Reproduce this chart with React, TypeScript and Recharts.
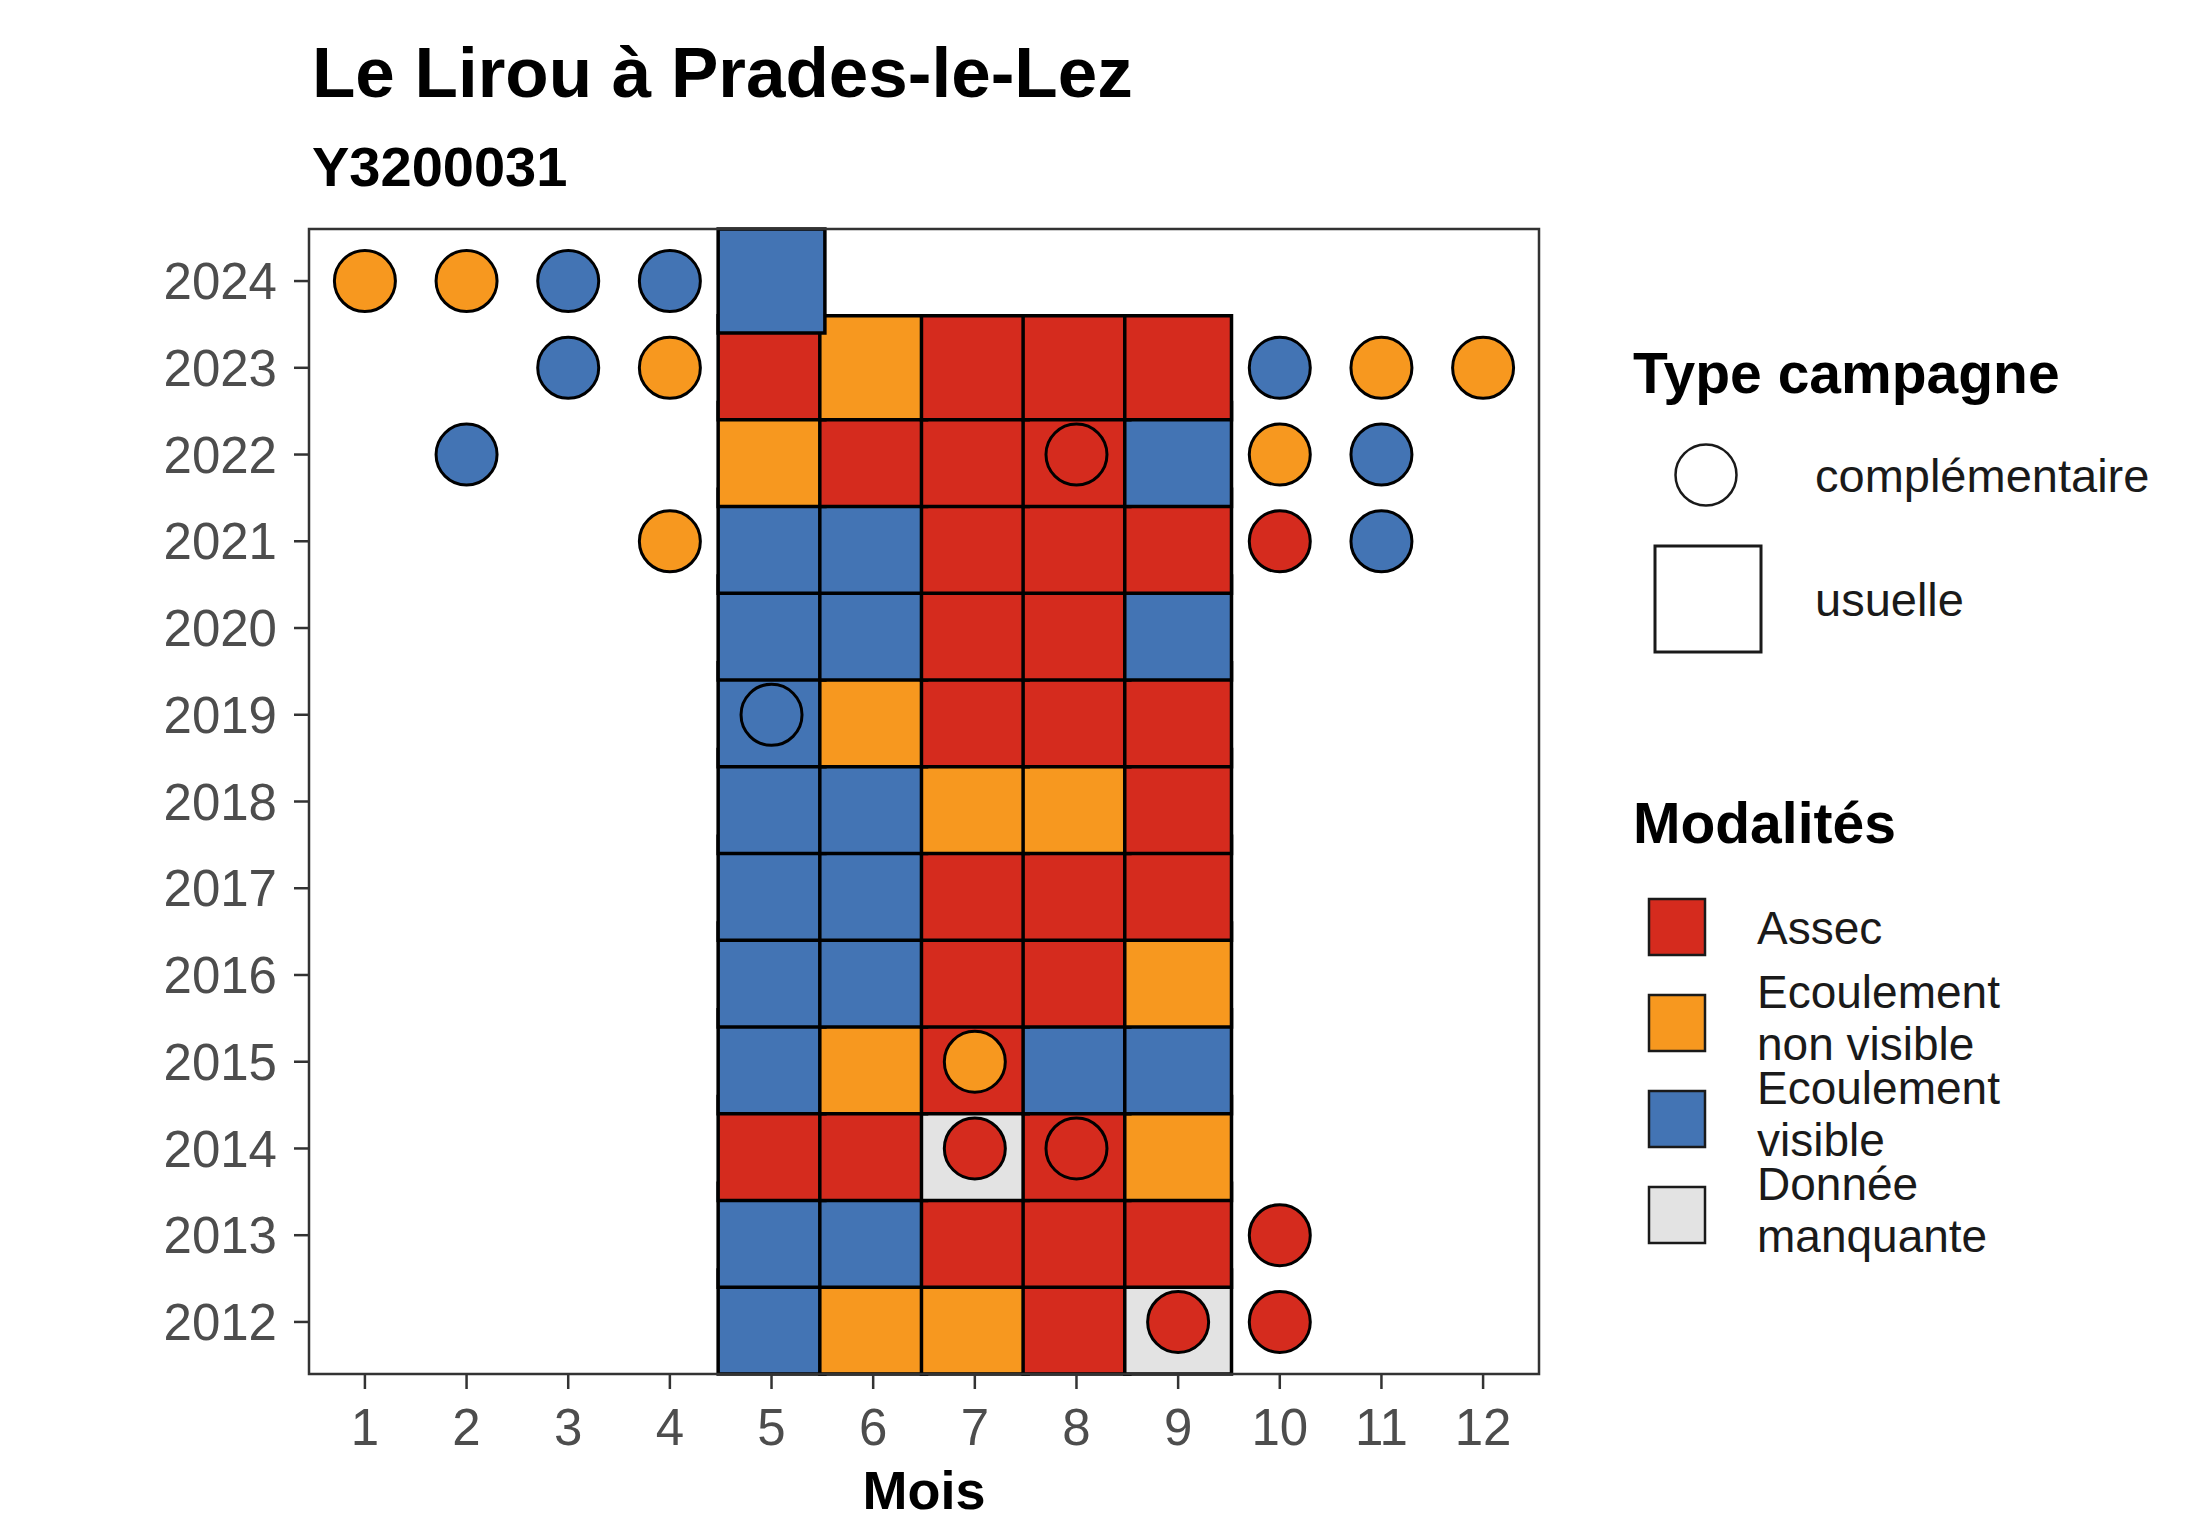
import { ScatterChart, Scatter, XAxis, YAxis, ReferenceArea, Label } from "recharts";

const FONT = "'Liberation Sans', Arial, sans-serif";

// axes
const months = [1, 2, 3, 4, 5, 6, 7, 8, 9, 10, 11, 12];
const years = [2012, 2013, 2014, 2015, 2016, 2017, 2018, 2019, 2020, 2021, 2022, 2023, 2024];

// modalities: A = Assec, O = Ecoulement non visible, B = Ecoulement visible, G = Donnée manquante
const modCodes = ["A", "O", "B", "G"];
const modLabels = [["Assec"], ["Ecoulement", "non visible"], ["Ecoulement", "visible"], ["Donnée", "manquante"]];
const modColors: Record<string, string> = { A: "#d52b1e", O: "#f7981f", B: "#4374b4", G: "#e3e3e3" };

// usual campaign (tiles), one code per month
const usualYears = [2012, 2013, 2014, 2015, 2016, 2017, 2018, 2019, 2020, 2021, 2022, 2023, 2024];
const usualMonths = [5, 6, 7, 8, 9];
const usualCodes = [
  ["B", "O", "O", "A", "G"], // 2012
  ["B", "B", "A", "A", "A"], // 2013
  ["A", "A", "G", "A", "O"], // 2014
  ["B", "O", "A", "B", "B"], // 2015
  ["B", "B", "A", "A", "O"], // 2016
  ["B", "B", "A", "A", "A"], // 2017
  ["B", "B", "O", "O", "A"], // 2018
  ["B", "O", "A", "A", "A"], // 2019
  ["B", "B", "A", "A", "B"], // 2020
  ["B", "B", "A", "A", "A"], // 2021
  ["O", "A", "A", "A", "B"], // 2022
  ["A", "O", "A", "A", "A"], // 2023
  ["B", "", "", "", ""], // 2024
];

// complementary campaign (circles)
const compMonths = [1, 2, 3, 4, 3, 4, 10, 11, 12, 2, 8, 10, 11, 4, 10, 11, 5, 7, 7, 8, 10, 9, 10];
const compYears = [2024, 2024, 2024, 2024, 2023, 2023, 2023, 2023, 2023, 2022, 2022, 2022, 2022, 2021, 2021, 2021, 2019, 2015, 2014, 2014, 2013, 2012, 2012];
const compCodes = ["O", "O", "B", "B", "B", "O", "B", "O", "O", "B", "A", "O", "B", "O", "A", "B", "B", "O", "A", "A", "A", "A", "A"];

const tiles = usualYears.flatMap((y, i) =>
  usualMonths
    .map((m, j) => ({ month: m, year: y, code: usualCodes[i][j] }))
    .filter((t) => t.code !== "")
);
const points = compMonths.map((m, i) => ({ month: m, year: compYears[i], code: compCodes[i] }));

const TILE_W = 1.05;
const TILE_H = 1.2;

function Dot(props: any) {
  const { cx, cy, payload } = props;
  return <circle cx={cx} cy={cy} r={30.5} fill={modColors[payload.code]} stroke="#000" strokeWidth={3} />;
}

function Overlay() {
  return (
    <svg
      width={2191}
      height={1518}
      style={{ position: "absolute", left: 0, top: 0, pointerEvents: "none" }}
      fontFamily={FONT}
    >
      <text x={312} y={97} fontSize={71} fontWeight="bold" fill="#000">
        Le Lirou à Prades-le-Lez
      </text>
      <text x={312} y={186} fontSize={56} fontWeight="bold" fill="#000">
        Y3200031
      </text>

      <text x={1633} y={393} fontSize={57} fontWeight="bold" fill="#000">
        Type campagne
      </text>
      <circle cx={1706} cy={475} r={30.5} fill="#fff" stroke="#1a1a1a" strokeWidth={2.5} />
      <text x={1815} y={492} fontSize={47} fill="#1a1a1a">
        complémentaire
      </text>
      <rect x={1655} y={546} width={106} height={106} fill="#fff" stroke="#1a1a1a" strokeWidth={3} />
      <text x={1815} y={616} fontSize={47} fill="#1a1a1a">
        usuelle
      </text>

      <text x={1633} y={843} fontSize={57} fontWeight="bold" fill="#000">
        Modalités
      </text>
      {modCodes.map((c, i) => {
        const keyTop = 899 + i * 96;
        const lines = modLabels[i];
        const base = lines.length === 1 ? 944 : keyTop + 13;
        return (
          <g key={c}>
            <rect x={1649} y={keyTop} width={56} height={56} fill={modColors[c]} stroke="#1a1a1a" strokeWidth={2.5} />
            {lines.map((l, k) => (
              <text key={k} x={1757} y={base + k * 51.5} fontSize={46} fill="#1a1a1a">
                {l}
              </text>
            ))}
          </g>
        );
      })}
    </svg>
  );
}

export default function App() {
  return (
    <div style={{ position: "absolute", left: 0, top: 0, width: 2191, height: 1518, background: "#fff" }}>
      <ScatterChart
        width={2191}
        height={1518}
        margin={{ top: 229, right: 652, left: 0, bottom: 0 }}
      >
        <XAxis
          type="number"
          dataKey="month"
          domain={[0.45, 12.55]}
          ticks={months}
          interval={0}
          allowDataOverflow
          axisLine={false}
          tickLine={{ stroke: "#333", strokeWidth: 2.5 }}
          tickSize={15}
          tickMargin={20}
          height={144}
          tick={{ fontSize: 51, fill: "#4d4d4d", fontFamily: FONT }}
        >
          <Label
            value="Mois"
            position="insideBottom"
            offset={9}
            style={{ fontSize: 54, fontWeight: "bold", fill: "#000", fontFamily: FONT }}
          />
        </XAxis>
        <YAxis
          type="number"
          dataKey="year"
          domain={[2011.4, 2024.6]}
          ticks={years}
          interval={0}
          allowDataOverflow
          axisLine={false}
          tickLine={{ stroke: "#333", strokeWidth: 2.5 }}
          tickSize={15}
          tickMargin={17}
          width={309}
          tick={{ fontSize: 51, fill: "#4d4d4d", fontFamily: FONT }}
        />
        {tiles.map((t) => (
          <ReferenceArea
            key={`${t.year}-${t.month}`}
            x1={t.month - TILE_W / 2}
            x2={t.month + TILE_W / 2}
            y1={t.year - TILE_H / 2}
            y2={t.year + TILE_H / 2}
            fill={modColors[t.code]}
            fillOpacity={1}
            stroke="#000"
            strokeWidth={3.5}
            ifOverflow="visible"
          />
        ))}
        <ReferenceArea
          x1={0.45}
          x2={12.55}
          y1={2011.4}
          y2={2024.6}
          fill="none"
          stroke="#333"
          strokeWidth={2.5}
          ifOverflow="visible"
        />
        <Scatter data={points} shape={<Dot />} isAnimationActive={false} />
      </ScatterChart>
      <Overlay />
    </div>
  );
}
